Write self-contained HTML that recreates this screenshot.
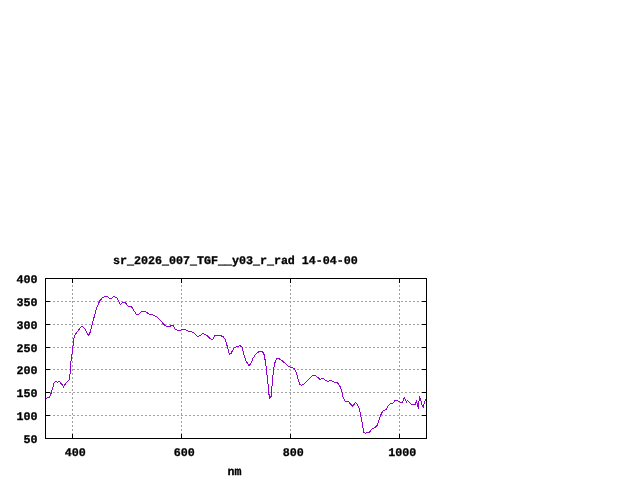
<!DOCTYPE html>
<html><head><meta charset="utf-8"><title>plot</title>
<style>
html,body{margin:0;padding:0;background:#fff;}
body{width:640px;height:480px;overflow:hidden;position:relative;}
svg{position:absolute;left:0;top:0;display:block;}
text{font-family:"Liberation Mono","DejaVu Sans Mono",monospace;font-weight:bold;text-rendering:geometricPrecision;font-size:11.67px;fill:#000;stroke:#000;stroke-width:0.3px;}
.u{stroke-width:0.7px;}
</style></head><body>
<svg width="640" height="480" viewBox="0 0 640 480">
<rect width="640" height="480" fill="#fff"/>

<g stroke="#a0a0a0" stroke-width="1" stroke-dasharray="2 2" shape-rendering="crispEdges" fill="none">
<line x1="45" y1="301.5" x2="427" y2="301.5"/>
<line x1="45" y1="324.5" x2="427" y2="324.5"/>
<line x1="45" y1="347.5" x2="427" y2="347.5"/>
<line x1="45" y1="369.5" x2="427" y2="369.5"/>
<line x1="45" y1="392.5" x2="427" y2="392.5"/>
<line x1="45" y1="415.5" x2="427" y2="415.5"/>
<line x1="72.5" y1="439" x2="72.5" y2="278"/>
<line x1="181.5" y1="439" x2="181.5" y2="278"/>
<line x1="290.5" y1="439" x2="290.5" y2="278"/>
<line x1="399.5" y1="439" x2="399.5" y2="278"/>
</g>
<polyline points="46,398.5 49.4,397.2 51.2,393 52.5,388.7 54,383 55.6,381.2 57.5,382.2 59.4,381.5 61.9,384.4 63.5,387.2 66.2,382.5 69.4,379.4 70.2,372.5 70.6,364.4 71.9,354.4 72.7,350 73.1,345 73.5,340 75,335 78.1,330.6 81.5,326.2 84.4,328.1 86.9,333.1 88.75,335.6 90.6,331.2 92.5,322.5 94.4,316.2 96.25,309.4 98.1,304.4 100,300.6 102.5,297.5 105.6,296.5 107.5,296.9 110,298.5 111.9,298.1 113.75,296.5 116.9,297.75 118.75,301.9 120.4,304.4 122.5,302.5 125.25,302.5 128.1,306.25 131.5,306.5 133.75,310.6 136.5,314.4 138.75,314.2 141.9,311.5 145.6,311.5 149.4,314.4 152.5,314.75 156.25,316.5 160,320 164.4,325 166.9,326.5 169.4,326.25 173.1,325.4 175,329 177.5,330.4 180,330.4 182.5,329.4 185,329.5 188.1,331 191.25,331.5 193.75,332.75 197.5,336.5 200,335.6 202.9,333.2 206.6,335.3 210.6,339 212.5,339.6 215,335.6 219.4,335.4 223.1,336.5 225.6,340 227.5,347.5 229.4,354.4 231.25,353.1 234,347.75 237.5,346.5 240,345.4 242.25,347.5 243.75,354.4 246.25,361.25 248.75,365.4 250.6,364.4 253.1,358.1 256.25,353.5 259.4,351.5 262.5,351.5 264,354.4 265.6,362.5 266.9,373.75 268.1,385 269.4,398.5 271.25,396.25 272.25,382.5 273.5,370 275,362.5 276.9,358.5 278.75,358.5 281.9,360.6 285,363.1 288.5,366.5 291.9,367.5 294.4,368.5 296.25,372.5 298.1,379.4 299.75,384.4 301.25,385.4 303.75,384 307.5,380.6 310.6,377.5 313.1,375.25 315,375.4 317.5,377.25 320,379.4 323.1,378.5 325,380 327.5,381.5 330.6,380.4 334.4,382.25 337.5,382.9 340.6,387.5 341.9,391.9 343.1,397.5 345,401 348.1,401.25 350.6,404 352.75,406.5 355.4,402.25 357.75,405 359.4,409.4 361,416.9 362.5,425 364,432.75 365.6,433.1 369.4,432.25 372.25,428.75 375,427.75 377.5,425 379.4,418.75 381,414.4 383.1,410.6 386.25,409.4 388.75,405 390.6,403.75 392.5,403.4 395.3,400.3 397.5,400.3 399,401.6 400.6,402.5 402.5,402.4 404.4,397.5 406.4,402.2 407.5,400.3 411.25,404.4 415.3,404.4 416.4,400.3 418.4,408.4 419.4,396.6 420.6,398.75 421.9,405 423.4,407.2 424.7,401.25 425.9,399.4" fill="none" stroke="#9400d3" stroke-width="1" shape-rendering="crispEdges" stroke-linejoin="round"/>
<g stroke="#000" stroke-width="1" shape-rendering="crispEdges" fill="none">
<rect x="45.5" y="278.5" width="381" height="160"/>
<line x1="45" y1="301.5" x2="50" y2="301.5"/>
<line x1="422" y1="301.5" x2="427" y2="301.5"/>
<line x1="45" y1="324.5" x2="50" y2="324.5"/>
<line x1="422" y1="324.5" x2="427" y2="324.5"/>
<line x1="45" y1="347.5" x2="50" y2="347.5"/>
<line x1="422" y1="347.5" x2="427" y2="347.5"/>
<line x1="45" y1="369.5" x2="50" y2="369.5"/>
<line x1="422" y1="369.5" x2="427" y2="369.5"/>
<line x1="45" y1="392.5" x2="50" y2="392.5"/>
<line x1="422" y1="392.5" x2="427" y2="392.5"/>
<line x1="45" y1="415.5" x2="50" y2="415.5"/>
<line x1="422" y1="415.5" x2="427" y2="415.5"/>
<line x1="72.5" y1="439" x2="72.5" y2="434"/>
<line x1="72.5" y1="278" x2="72.5" y2="283"/>
<line x1="181.5" y1="439" x2="181.5" y2="434"/>
<line x1="181.5" y1="278" x2="181.5" y2="283"/>
<line x1="290.5" y1="439" x2="290.5" y2="434"/>
<line x1="290.5" y1="278" x2="290.5" y2="283"/>
<line x1="399.5" y1="439" x2="399.5" y2="434"/>
<line x1="399.5" y1="278" x2="399.5" y2="283"/>
</g>
<text x="16.5" y="282.7" xml:space="preserve">400</text>
<text x="16.5" y="305.7" xml:space="preserve">350</text>
<text x="16.5" y="328.7" xml:space="preserve">300</text>
<text x="16.5" y="351.7" xml:space="preserve">250</text>
<text x="16.5" y="373.7" xml:space="preserve">200</text>
<text x="16.5" y="396.7" xml:space="preserve">150</text>
<text x="16.5" y="419.7" xml:space="preserve">100</text>
<text x="23.5" y="442.7" xml:space="preserve">50</text>
<text x="64.7" y="455.7" xml:space="preserve">400</text>
<text x="173.7" y="455.7" xml:space="preserve">600</text>
<text x="282.7" y="455.7" xml:space="preserve">800</text>
<text x="388.2" y="455.7" xml:space="preserve">1000</text>
<text x="113.0" y="263.7" xml:space="preserve">sr_2026_007_TGF__y03_r_rad 14-04-00</text>
<text x="227.5" y="474.8" xml:space="preserve">nm</text>
</svg></body></html>
